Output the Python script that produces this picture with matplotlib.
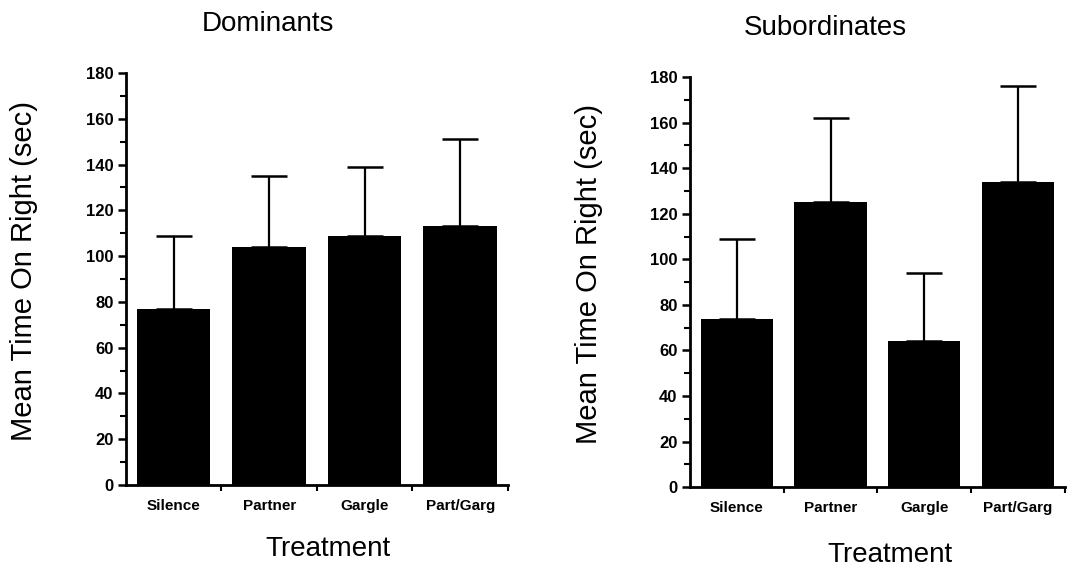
import matplotlib
matplotlib.use("Agg")
import matplotlib.pyplot as plt
from matplotlib.ticker import MultipleLocator, FixedLocator
import numpy as np

categories = ["Silence", "Partner", "Gargle", "Part/Garg"]
dom_means = [77, 104, 109, 113]
dom_upper = [109, 135, 139, 151]
sub_means = [74, 125, 64, 134]
sub_upper = [109, 162, 94, 176]
y_ticks = [0, 20, 40, 60, 80, 100, 120, 140, 160, 180]

plt.rcParams['font.family'] = ['Liberation Sans', 'DejaVu Sans']

fig = plt.figure(figsize=(10.73, 5.71), dpi=100)
ax1 = fig.add_axes([0.1174, 0.1506, 0.356, 0.7215])
ax2 = fig.add_axes([0.643, 0.147, 0.3495, 0.718])

def draw(ax, means, upper, title, title_x, xlab_x, xlab_y, ylab_x):
    x = np.arange(len(categories))
    ax.bar(x, means, width=0.77, color="black", zorder=2)
    err = np.array(upper) - np.array(means)
    ax.errorbar(x, means, yerr=[np.zeros(len(err)), err], fmt="none",
                ecolor="black", elinewidth=1.6, capsize=13, capthick=1.8, zorder=3)
    ax.set_xlim(-0.5, 3.5)
    ax.set_ylim(0, 180)
    ax.set_yticks(y_ticks)
    ax.yaxis.set_minor_locator(MultipleLocator(10))
    ax.set_xticks(x)
    ax.set_xticklabels(categories, fontsize=11, fontweight="bold")
    ax.xaxis.set_minor_locator(FixedLocator([0.5, 1.5, 2.5, 3.5]))
    ax.tick_params(axis="x", which="major", length=0, pad=10)
    ax.tick_params(axis="x", which="minor", length=4, width=1.5, direction="out")
    ax.tick_params(axis="y", which="major", length=6, width=1.8, labelsize=12, pad=3)
    ax.tick_params(axis="y", which="minor", length=4, width=1.5)
    for lab in ax.get_yticklabels():
        lab.set_fontweight("bold")
    for s in ["top", "right"]:
        ax.spines[s].set_visible(False)
    for s in ["left", "bottom"]:
        ax.spines[s].set_linewidth(2)
    ax.text(ylab_x, 0.52, "Mean Time On Right (sec)", transform=ax.transAxes,
            rotation=90, ha="center", va="center", fontsize=21)
    ax.text(xlab_x, xlab_y, "Treatment", transform=ax.transAxes,
            ha="center", va="center", fontsize=20)
    ax.text(title_x, 1.12, title, transform=ax.transAxes,
            ha="center", va="center", fontsize=20)

draw(ax1, dom_means, dom_upper, "Dominants", 0.372, 0.529, -0.155, -0.267)
draw(ax2, sub_means, sub_upper, "Subordinates", 0.36, 0.533, -0.166, -0.269)

fig.savefig("out.png", dpi=100)
